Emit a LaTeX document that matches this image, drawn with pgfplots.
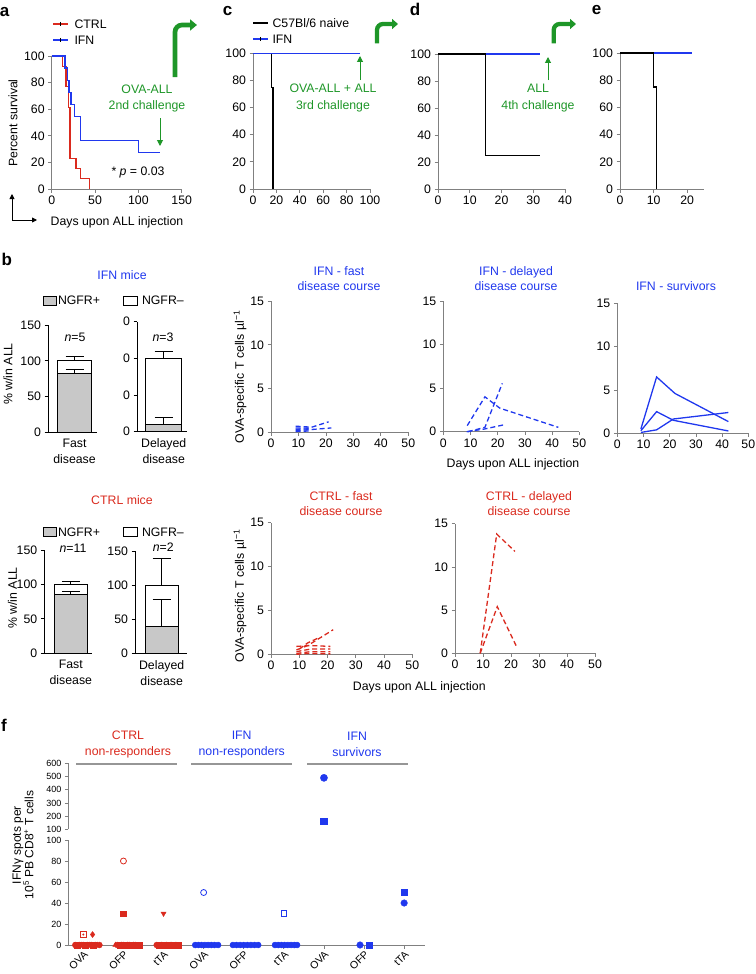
\documentclass[border=0pt]{standalone}
\usepackage{pgfplots}
\pgfplotsset{compat=1.18}
\usepackage{fontspec}
\setmainfont{Liberation Sans}
\usetikzlibrary{arrows.meta}
\definecolor{cred}{RGB}{218,42,30}
\definecolor{cblue}{RGB}{32,56,238}
\definecolor{cgreen}{RGB}{30,150,40}
\definecolor{axg}{RGB}{128,128,128}
\definecolor{barg}{RGB}{200,200,200}
\definecolor{lineg}{RGB}{150,150,150}
\newcommand\fs{\fontsize{12.3}{14.5}\selectfont}
\newcommand\fst{\fontsize{12.3}{15.5}\selectfont}
\newcommand\fsm{\fontsize{9}{10}\selectfont}
\newcommand\pl{\fontsize{17}{20}\selectfont\bfseries}
\pgfplotsset{
  base/.style={scale only axis, anchor=south west, clip=false,
    axis x line*=bottom, axis y line*=left,
    axis line style={axg, line width=0.9pt},
    every tick/.style={axg, line width=0.8pt},
    tick align=outside, major tick length=3.5pt,
    tick label style={font=\fs},
    /pgf/number format/assume math mode=true},
  km/.style={base, ymin=0, ymax=100, ytick={0,20,...,100}},
  barax/.style={base, axis line style={black, line width=0.9pt},
    every tick/.style={black, line width=0.8pt},
    xmin=0, xmax=1, ymin=0, ymax=150, ytick={0,50,100,150},
    major x tick style={draw=none},
    xticklabel style={align=center, font=\fontsize{12.3}{16}\selectfont}},
  lineax/.style={base, xmin=0, xmax=50, ymin=0, ymax=15, xtick={0,10,...,50}, ytick={0,5,10,15}},
  eb/.style={error bars/y dir=plus, error bars/y explicit,
     error bars/error bar style={black, line width=0.9pt},
     error bars/error mark options={rotate=90, mark size=9pt, black, line width=0.9pt}},
  dsh/.style={line width=1.3pt, dash pattern=on 5pt off 3pt},
  km line/.style={line width=1.3pt},
}
\begin{document}
\begin{tikzpicture}
\useasboundingbox (0pt,0pt) rectangle (755pt,-974pt);

% ---------------- panel a ----------------
\begin{axis}[km, at={(51.7pt,-189pt)}, width=130pt, height=133pt, xmin=0, xmax=150, xtick={0,50,100,150}]
\addplot[const plot, cred, km line] coordinates {(0,100)(12.7,92.3)(16.5,76.9)(19,61.5)(21,23.1)(28,15.4)(33,7.7)(44,0)};
\addplot[const plot, cblue, km line] coordinates {(0,100)(15.4,90.9)(18.5,81.8)(20,72.7)(22.3,63.6)(26,54.5)(33,36.4)(100,27.3)(125,27.3)};
\end{axis}

% ---------------- panel c ----------------
\begin{axis}[km, at={(253pt,-189pt)}, width=117pt, height=135.7pt, xmin=0, xmax=100, xtick={0,20,...,100}]
\addplot[const plot, black, km line] coordinates {(0,100)(16,75)(17,0)};
\addplot[cblue, km line] coordinates {(0,100)(91.5,100)};
\end{axis}

% ---------------- panel d ----------------
\begin{axis}[km, at={(438pt,-189pt)}, width=127pt, height=135pt, xmin=0, xmax=40, xtick={0,10,...,40}]
\addplot[cblue, km line] coordinates {(0,100)(32,100)};
\addplot[const plot, black, km line] coordinates {(0,100)(15,25)(32.2,25)};
\end{axis}

% ---------------- panel e ----------------
\begin{axis}[km, at={(620pt,-189pt)}, width=84pt, height=136pt, xmin=0, xmax=25, xtick={0,10,20}]
\addplot[cblue, km line] coordinates {(0,100)(21.3,100)};
\addplot[const plot, black, km line] coordinates {(0,100)(10,75)(10.8,0)};
\end{axis}

% ---------------- panel b bars ----------------
\begin{axis}[barax, at={(48pt,-432.3pt)}, width=49pt, height=107.3pt, xtick={0.541}, xticklabels={Fast\\disease}]
\addplot[ybar, bar shift=0pt, bar width=0.70, fill=white, draw=black, line width=0.9pt, eb] coordinates {(0.541,100) +- (0,5.7)};
\addplot[ybar, bar shift=0pt, bar width=0.70, fill=barg, draw=black, line width=0.9pt, eb] coordinates {(0.541,82) +- (0,6)};
\end{axis}
\begin{axis}[barax, at={(137pt,-431.7pt)}, width=50pt, height=110pt, xtick={0.534}, xticklabels={Delayed\\disease}, yticklabels={0,0,0,0}]
\addplot[ybar, bar shift=0pt, bar width=0.72, fill=white, draw=black, line width=0.9pt, eb] coordinates {(0.534,100) +- (0,9)};
\addplot[ybar, bar shift=0pt, bar width=0.72, fill=barg, draw=black, line width=0.9pt, eb] coordinates {(0.534,10) +- (0,9.5)};
\end{axis}
\begin{axis}[barax, at={(44.3pt,-653.3pt)}, width=47.7pt, height=103.3pt, xtick={0.556}, xticklabels={Fast\\disease}]
\addplot[ybar, bar shift=0pt, bar width=0.69, fill=white, draw=black, line width=0.9pt, eb] coordinates {(0.556,100) +- (0,3.8)};
\addplot[ybar, bar shift=0pt, bar width=0.69, fill=barg, draw=black, line width=0.9pt, eb] coordinates {(0.556,86) +- (0,4)};
\end{axis}
\begin{axis}[barax, at={(135pt,-653.3pt)}, width=52pt, height=102pt, xtick={0.513}, xticklabels={Delayed\\disease}]
\addplot[ybar, bar shift=0pt, bar width=0.64, fill=white, draw=black, line width=0.9pt, eb] coordinates {(0.513,100) +- (0,40)};
\addplot[ybar, bar shift=0pt, bar width=0.64, fill=barg, draw=black, line width=0.9pt, eb] coordinates {(0.513,40) +- (0,39)};
\end{axis}

% ---------------- panel b lines ----------------
\begin{axis}[lineax, at={(271pt,-432.3pt)}, width=137.3pt, height=131.3pt]
\addplot[cblue, dsh] coordinates {(9,0.5)(14,0.5)(21,1.2)};
\addplot[cblue, dsh] coordinates {(9,0.2)(14,0.3)(22,0.5)};
\addplot[cblue, dsh] coordinates {(9,0.7)(14,0.6)};
\addplot[cblue, dsh] coordinates {(9,0.1)(14,0.15)};
\addplot[cblue, dsh] coordinates {(9,0.35)(14,0.4)};
\end{axis}
\begin{axis}[lineax, at={(443.3pt,-431.7pt)}, width=136pt, height=130.7pt]
\addplot[cblue, dsh] coordinates {(8.8,0.7)(15.3,4.0)(20.8,2.7)(42.3,0.5)};
\addplot[cblue, dsh] coordinates {(9,0.0)(15.3,0.5)(21.7,5.55)};
\addplot[cblue, dsh] coordinates {(8.6,0.0)(15,0.3)(22,0.77)};
\end{axis}
\begin{axis}[lineax, at={(617.3pt,-433.3pt)}, width=131pt, height=130pt]
\addplot[cblue, km line] coordinates {(9,0.5)(15,6.5)(22,4.6)(42.4,1.35)};
\addplot[cblue, km line] coordinates {(9,0.3)(15,2.5)(21.4,1.5)(42.4,0.27)};
\addplot[cblue, km line] coordinates {(9,0.1)(15,0.4)(21.4,1.65)(42.4,2.4)};
\end{axis}
\begin{axis}[lineax, at={(271pt,-654.3pt)}, width=141.3pt, height=131.6pt]
\addplot[cred, dsh] coordinates {(9,0.9)(14,1.0)(21,0.9)};
\addplot[cred, dsh] coordinates {(9,0.5)(13,1.0)(22,2.8)};
\addplot[cred, dsh] coordinates {(9,0.3)(14,0.6)(21,0.6)};
\addplot[cred, dsh] coordinates {(9,0.1)(14,0.3)(21,0.3)};
\addplot[cred, dsh] coordinates {(9,0.0)(13,0.1)(21,0.05)};
\addplot[cred, dsh] coordinates {(10,0.6)(13,1.3)(17,1.9)};
\end{axis}
\begin{axis}[lineax, at={(455pt,-653.3pt)}, width=140pt, height=129.6pt]
\addplot[cred, dsh] coordinates {(9,0)(14.9,13.8)(21.4,11.8)};
\addplot[cred, dsh] coordinates {(9,0)(15.1,5.4)(22,0.77)};
\end{axis}

% ---------------- panel f ----------------
\begin{axis}[base, axis x line=none, at={(68.3pt,-829.3pt)}, width=356.7pt, height=66pt,
  xmin=-0.375, xmax=8.52, ymin=100, ymax=600, ytick={100,200,...,600},
  yticklabel style={font=\fsm}]
\addplot[only marks, cblue, mark=*, mark size=3.6pt] coordinates {(6,490)};
\addplot[only marks, cblue, mark=square*, mark size=3.3pt] coordinates {(6,160)};
\end{axis}
\begin{axis}[base, at={(68.3pt,-945pt)}, width=356.7pt, height=105pt,
  xmin=-0.375, xmax=8.52, ymin=0, ymax=100, ytick={0,20,...,100},
  yticklabel style={font=\fsm},
  xtick={0,...,8}, xticklabels={OVA,OFP,tTA,OVA,OFP,tTA,OVA,OFP,tTA},
  xticklabel style={rotate=45, anchor=north east, inner sep=1pt, font=\fontsize{10.5}{11}\selectfont}]
% CTRL non-responders
\addplot[only marks, cred, mark=*, mark size=3pt] coordinates {(-0.2,0)(-0.1,0)(0,0)(0.1,0)(0.2,0)(0.3,0)(0.4,0)};
\addplot[only marks, cred, mark=square*, mark size=2.7pt] coordinates {(-0.15,0)(0.05,0)(0.25,0)};
\addplot[only marks, cred, mark=triangle*, mark size=3pt] coordinates {(-0.05,0)(0.15,0)(0.35,0)};
\addplot[only marks, cred, mark=triangle*, mark size=3pt] coordinates {(0.8,0)(0.95,0)(1.1,0)(1.25,0)};
\addplot[only marks, cred, mark=*, mark size=3pt] coordinates {(0.85,0)(1.0,0)(1.15,0)(1.3,0)};
\addplot[only marks, cred, mark=square*, mark size=2.7pt] coordinates {(0.9,0)(1.05,0)(1.2,0)(1.35,0)(1.4,0)};
\addplot[only marks, cred, mark=*, mark size=3pt] coordinates {(1.83,0)(1.95,0)(2.07,0)(2.19,0)(2.31,0)};
\addplot[only marks, cred, mark=square*, mark size=2.7pt] coordinates {(1.89,0)(2.01,0)(2.13,0)(2.25,0)(2.37,0)};
\addplot[only marks, cred, mark=square, mark size=2.7pt, line width=0.8pt] coordinates {(0,10)};
\addplot[only marks, cred, mark=*, mark size=0.8pt] coordinates {(0,10)};
\addplot[only marks, cred, mark=diamond*, mark size=3pt] coordinates {(0.23,10)};
\addplot[only marks, cred, mark=o, mark size=3pt, line width=0.8pt] coordinates {(1,80)};
\addplot[only marks, cred, mark=square*, mark size=2.8pt] coordinates {(1,30)};
\addplot[only marks, cred, mark=triangle*, mark size=3pt, mark options={rotate=180}] coordinates {(2,30)};
% IFN non-responders
\addplot[only marks, cblue, mark=*, mark size=3pt] coordinates {(2.79,0)(2.87,0)(2.95,0)(3.03,0)(3.11,0)(3.19,0)(3.27,0)(3.36,0)};
\addplot[only marks, cblue, mark=*, mark size=3pt] coordinates {(3.73,0)(3.82,0)(3.91,0)(4.0,0)(4.09,0)(4.18,0)(4.27,0)(4.36,0)};
\addplot[only marks, cblue, mark=*, mark size=3pt] coordinates {(4.78,0)(4.86,0)(4.94,0)(5.02,0)(5.1,0)(5.18,0)(5.26,0)(5.33,0)};
\addplot[only marks, cblue, mark=o, mark size=3pt, line width=0.8pt] coordinates {(3,50)};
\addplot[only marks, cblue, mark=square, mark size=2.8pt, line width=0.8pt] coordinates {(5,30)};
% IFN survivors
\addplot[only marks, cblue, mark=*, mark size=3.3pt] coordinates {(6.9,0)(8,40)};
\addplot[only marks, cblue, mark=square*, mark size=3.1pt] coordinates {(7.13,0)(8,50)};
\end{axis}

% ---------------- annotations ----------------
\begin{scope}[x=1pt, y=1pt]
% panel letters
\node[font=\pl] at (4.5,-11.7) {a};
\node[font=\pl] at (227.5,-11.5) {c};
\node[font=\pl] at (415,-9.5) {d};
\node[font=\pl] at (596.7,-10.5) {e};
\node[font=\pl] at (6.7,-259) {b};
\node[font=\pl] at (4,-725) {f};

% legend a
\draw[cred, line width=1.3pt] (53,-24) -- (68,-24);
\draw[black, line width=0.6pt] (60.5,-22) -- (60.5,-26);
\node[anchor=west, font=\fs] at (71,-24) {CTRL};
\draw[cblue, line width=1.3pt] (53,-40) -- (68,-40);
\draw[black, line width=0.6pt] (60.5,-38) -- (60.5,-42);
\node[anchor=west, font=\fs] at (71,-40) {IFN};
% legend c
\draw[black, line width=1.3pt] (253,-23) -- (268,-23);
\node[anchor=west, font=\fs] at (269,-23) {C57Bl/6 naive};
\draw[cblue, line width=1.3pt] (253,-39) -- (268,-39);
\draw[black, line width=0.6pt] (260.5,-37) -- (260.5,-41);
\node[anchor=west, font=\fs] at (269,-39) {IFN};

% panel a labels
\node[font=\fs, rotate=90] at (13,-123) {Percent survival};
\node[font=\fs] at (117,-222) {Days upon ALL injection};
\node[font=\fs, anchor=west] at (108,-172) {* \textit{p} = 0.03};
\draw[black, line width=0.9pt, -{Triangle[length=5pt,width=5pt]}] (12,-220) -- (12,-194);
\draw[black, line width=0.9pt, -{Triangle[length=5pt,width=5pt]}] (12,-220) -- (37,-220);

% green annotations
\draw[cgreen, line width=4.7pt, rounded corners=7pt, -{Triangle[length=7pt,width=11pt]}] (175,-77) -- (175,-25) -- (197,-25);
\draw[cgreen, line width=4.3pt, rounded corners=6pt, -{Triangle[length=6pt,width=10pt]}] (377,-43.3) -- (377,-24) -- (398,-24);
\draw[cgreen, line width=4.3pt, rounded corners=6pt, -{Triangle[length=6pt,width=10pt]}] (553.7,-43.3) -- (553.7,-24) -- (576,-24);
\node[cgreen, font=\fontsize{12.3}{16.5}\selectfont, align=center] at (147,-98.5) {OVA-ALL\\2nd challenge};
\node[cgreen, font=\fontsize{12.3}{16.5}\selectfont, align=center] at (333,-98) {OVA-ALL + ALL\\3rd challenge};
\node[cgreen, font=\fontsize{12.3}{16.5}\selectfont, align=center] at (538,-98) {ALL\\4th challenge};
\draw[cgreen, line width=1pt, -{Triangle[length=6pt,width=6pt]}] (160,-118) -- (160,-146);
\draw[cgreen, line width=1pt, -{Triangle[length=6pt,width=6pt]}] (360,-80) -- (360,-56);
\draw[cgreen, line width=1pt, -{Triangle[length=6pt,width=6pt]}] (548,-80) -- (548,-57);

% panel b texts
\node[cblue, font=\fs] at (122,-275) {IFN mice};
\node[cred, font=\fs] at (122,-500) {CTRL mice};
\foreach \yy in {300.5,532} {
  \draw[fill=barg, line width=0.7pt] (43,-\yy+4.5) rectangle (56,-\yy-4.5);
  \node[anchor=west, font=\fs] at (54.5,-\yy) {NGFR+};
  \draw[fill=white, line width=0.7pt] (123,-\yy+4.5) rectangle (137,-\yy-4.5);
  \node[anchor=west, font=\fs] at (138.5,-\yy) {NGFR–};
}
\node[font=\fs] at (75,-337) {\textit{n}=5};
\node[font=\fs] at (163,-337.7) {\textit{n}=3};
\node[font=\fs] at (73,-548) {\textit{n}=11};
\node[font=\fs] at (163.3,-546.7) {\textit{n}=2};
\node[font=\fs, rotate=90] at (8,-374) {\% w/in ALL};
\node[font=\fs, rotate=90] at (12.5,-598) {\% w/in ALL};

\node[cblue, font=\fst, align=center] at (339,-278.5) {IFN - fast\\disease course};
\node[cblue, font=\fst, align=center] at (516,-278.5) {IFN - delayed\\disease course};
\node[cblue, font=\fs] at (676,-286) {IFN - survivors};
\node[cred, font=\fst, align=center] at (341,-503.5) {CTRL - fast\\disease course};
\node[cred, font=\fst, align=center] at (529,-503.5) {CTRL - delayed\\disease course};
\node[font=\fs, rotate=90] at (240,-377) {OVA-specific T cells µl\textsuperscript{−1}};
\node[font=\fs, rotate=90] at (240,-596) {OVA-specific T cells µl\textsuperscript{−1}};
\node[font=\fs] at (513,-464) {Days upon ALL injection};
\node[font=\fs] at (419.3,-687.7) {Days upon ALL injection};

% panel f texts
\node[cred, font=\fst, align=center] at (128,-744.5) {CTRL\\non-responders};
\node[cblue, font=\fst, align=center] at (241.7,-744.5) {IFN\\non-responders};
\node[cblue, font=\fst, align=center] at (357,-744.5) {IFN\\survivors};
\draw[lineg, line width=1.2pt] (76,-764) -- (177,-764);
\draw[lineg, line width=1.2pt] (191,-764) -- (292,-764);
\draw[lineg, line width=1.2pt] (307,-764) -- (408,-764);
\node[font=\fontsize{12}{12.5}\selectfont, rotate=90, align=center] at (23,-845) {IFNγ spots per\\10\textsuperscript{5} PB CD8\textsuperscript{+} T cells};
\end{scope}
\end{tikzpicture}
\end{document}
